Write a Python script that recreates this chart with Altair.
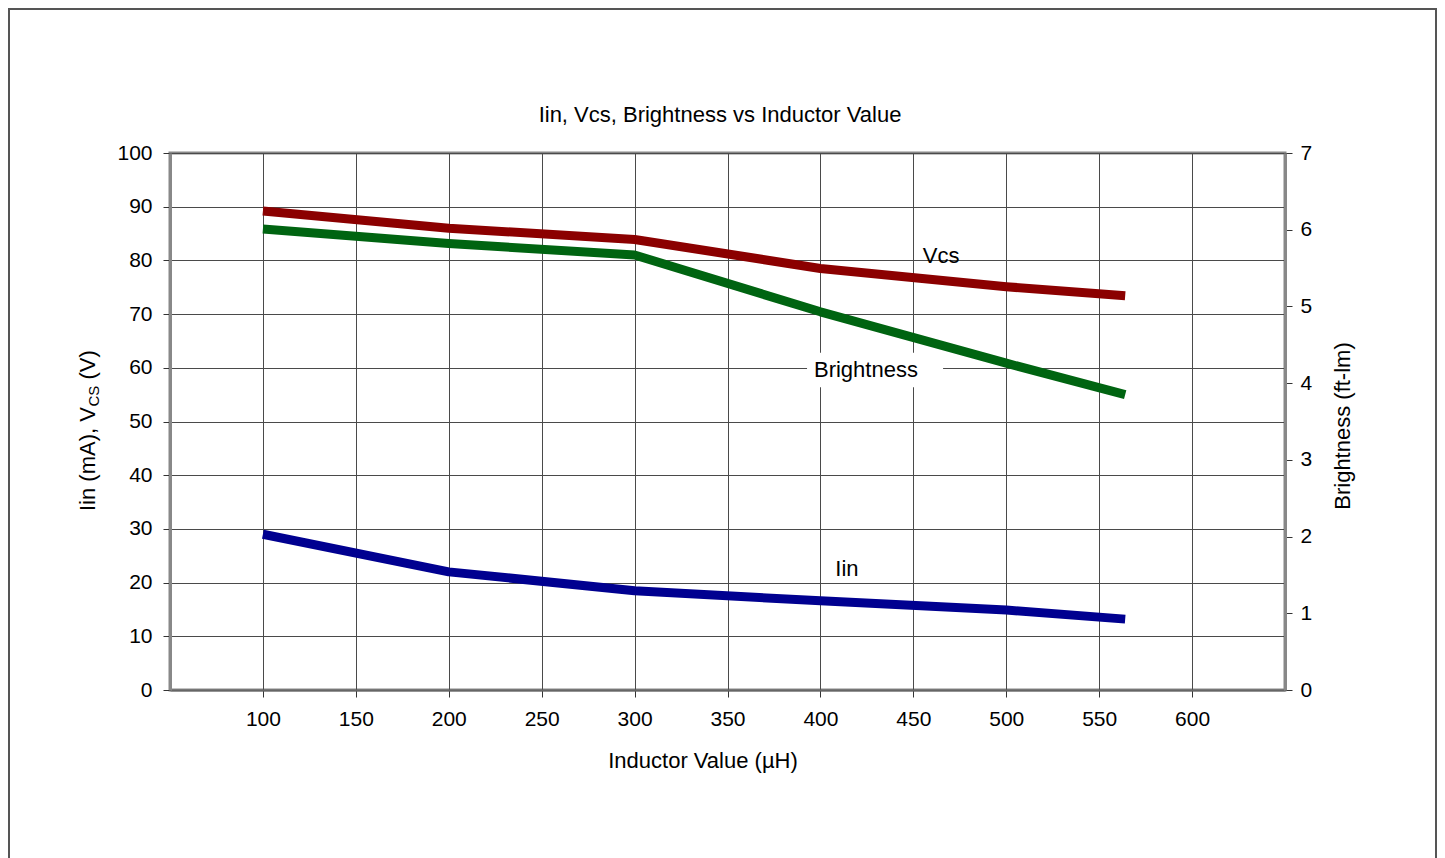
import altair as alt
import pandas as pd

# ---- data ----
inductance = [100, 200, 300, 400, 500, 564]
vcs = [89.2, 86.0, 83.9, 78.5, 75.1, 73.4]
iin = [29.0, 22.0, 18.5, 16.6, 14.9, 13.2]
brightness = [6.01, 5.82, 5.67, 4.93, 4.26, 3.85]

x_ticks = [100, 150, 200, 250, 300, 350, 400, 450, 500, 550, 600]
left_ticks = [0, 10, 20, 30, 40, 50, 60, 70, 80, 90, 100]
right_ticks = [0, 1, 2, 3, 4, 5, 6, 7]

label_text = ["Vcs", "Brightness", "Iin"]
label_x = [465, 424.5, 414.3]
label_y = [80.9, 59.6, 22.5]

box_x = [392.8]
box_x2 = [466.0]
box_y = [56.4]
box_y2 = [62.8]

FONT = "Liberation Sans"
W, H = 1115, 537

df_vcs = pd.DataFrame({"x": inductance, "y": vcs})
df_iin = pd.DataFrame({"x": inductance, "y": iin})
df_b = pd.DataFrame({"x": inductance, "y": brightness})
df_lab = pd.DataFrame({"x": label_x, "y": label_y, "t": label_text})
df_box = pd.DataFrame({"x": box_x, "x2": box_x2, "y": box_y, "y2": box_y2})
one = pd.DataFrame({"a": [0]})

x_scale = alt.Scale(domain=[50, 650], nice=False, zero=False)
yl_scale = alt.Scale(domain=[0, 100], nice=False)
yr_scale = alt.Scale(domain=[0, 7], nice=False)

x_axis = alt.Axis(values=x_ticks, title=None, grid=True, gridColor="#4a4a4a",
                  gridWidth=1, tickSize=7, tickColor="#333", domainColor="#666",
                  domainWidth=2, labelFontSize=21, labelPadding=11,
                  labelColor="#000", labelFont=FONT)
yl_axis = alt.Axis(values=left_ticks, title=None, grid=True, gridColor="#4a4a4a",
                   gridWidth=1, tickSize=7, tickColor="#333", domainColor="#888",
                   domainWidth=3, labelFontSize=21, labelPadding=11,
                   labelColor="#000", labelFont=FONT)
yr_axis = alt.Axis(values=right_ticks, title=None, grid=False, orient="right",
                   tickSize=7, tickColor="#333", domainColor="#888", domainWidth=3,
                   labelFontSize=21, labelPadding=8, labelColor="#000",
                   labelFont=FONT)

X = alt.X("x:Q", scale=x_scale, axis=x_axis)
YL = alt.Y("y:Q", scale=yl_scale, axis=yl_axis)

box = alt.Chart(df_box).mark_rect(color="white").encode(
    x=X, x2="x2:Q", y=YL, y2="y2:Q")

line_vcs = alt.Chart(df_vcs).mark_line(
    color="#8b0000", strokeWidth=9, strokeCap="butt", strokeJoin="round"
).encode(x=X, y=YL)

line_iin = alt.Chart(df_iin).mark_line(
    color="#000090", strokeWidth=9, strokeCap="butt", strokeJoin="round"
).encode(x=X, y=YL)

labels = alt.Chart(df_lab).mark_text(
    font=FONT, fontSize=22, color="#000", baseline="middle", align="center"
).encode(x=X, y=YL, text="t:N")

title_txt = alt.Chart(one).mark_text(
    font=FONT, fontSize=22, color="#000", align="center", baseline="alphabetic",
    text="Iin, Vcs, Brightness vs Inductor Value"
).encode(x=alt.value(550), y=alt.value(-31))

xtitle = alt.Chart(one).mark_text(
    font=FONT, fontSize=22, color="#000", align="center", baseline="alphabetic",
    text="Inductor Value (µH)"
).encode(x=alt.value(533), y=alt.value(615))

yl_t1 = alt.Chart(one).mark_text(
    font=FONT, fontSize=22, color="#000", align="left", baseline="alphabetic",
    angle=270, text="Iin (mA), V"
).encode(x=alt.value(-75), y=alt.value(358))
yl_t2 = alt.Chart(one).mark_text(
    font=FONT, fontSize=15, color="#000", align="left", baseline="alphabetic",
    angle=270, text="CS"
).encode(x=alt.value(-71), y=alt.value(253.5))
yl_t3 = alt.Chart(one).mark_text(
    font=FONT, fontSize=22, color="#000", align="left", baseline="alphabetic",
    angle=270, text="(V)"
).encode(x=alt.value(-75), y=alt.value(226.5))

yr_title = alt.Chart(one).mark_text(
    font=FONT, fontSize=22, color="#000", align="center", baseline="middle",
    angle=270, text="Brightness   (ft-lm)"
).encode(x=alt.value(1173), y=alt.value(273))

frame = alt.Chart(one).mark_rect(
    fill=None, stroke="#555", strokeWidth=2
).encode(x=alt.value(-161), x2=alt.value(W + 151), y=alt.value(-144),
         y2=alt.value(H + 180))

left = alt.layer(frame, box, line_vcs, line_iin, labels, title_txt, xtitle,
                 yl_t1, yl_t2, yl_t3, yr_title)

right = alt.Chart(df_b).mark_line(
    color="#006411", strokeWidth=9, strokeCap="butt", strokeJoin="round"
).encode(x=X, y=alt.Y("y:Q", scale=yr_scale, axis=yr_axis))

chart = alt.layer(left, right).resolve_scale(y="independent").properties(
    width=W, height=H,
    padding={"left": 162, "top": 145, "right": 152, "bottom": 168},
    autosize=alt.AutoSizeParams(type="none"),
    background="white",
).configure_view(stroke="#888", strokeWidth=3)

chart.save("out.html", embed_options={"renderer": "svg", "actions": False})
